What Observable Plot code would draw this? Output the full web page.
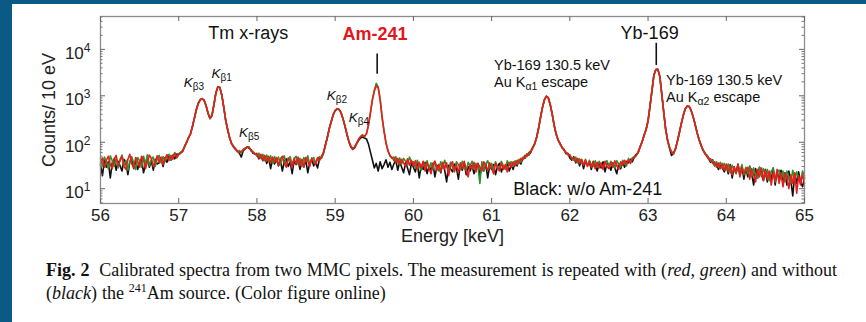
<!DOCTYPE html>
<html><head><meta charset="utf-8">
<script src="https://cdn.jsdelivr.net/npm/d3@7"></script>
<script src="https://cdn.jsdelivr.net/npm/@observablehq/plot@0.6"></script>
<style>
html,body{margin:0;padding:0;background:#fff;width:866px;height:322px;overflow:hidden;}
#wrap{position:relative;width:866px;height:322px;}
#bandTop{position:absolute;left:0;top:0;width:866px;height:4px;background:#0b5a86;}
#bandLeft{position:absolute;left:0;top:0;width:12px;height:322px;background:#0b5a86;}
#chart{position:absolute;left:0;top:0;}
#caption{position:absolute;left:46px;top:259px;font-family:"Liberation Serif",serif;font-size:18px;line-height:22.5px;color:#111;white-space:nowrap;word-spacing:0.4px;}
#caption sup{font-size:12px;vertical-align:7px;line-height:0;}
</style></head>
<body><div id="wrap"><div id="chart"></div><div id="bandTop"></div><div id="bandLeft"></div>
<div id="caption"><b>Fig. 2</b>&nbsp; Calibrated spectra from two MMC pixels. The measurement is repeated with (<i>red, green</i>) and without<br>(<i>black</i>) the <sup>241</sup>Am source. (Color figure online)</div></div>
<script>
// Energy bins (keV): first bin and bin spacing of the displayed spectra
const energyStart = 56;
const energyStep = 0.025;

// Counts / 10 eV, red run (with Am-241)
const redCounts = [
36,46,29,41,50,33,27,44,52,31,
40,49,30,26,43,55,34,28,47,39,
29,50,42,27,38,53,45,30,36,51,
37,48,33,45,54,40,52,43,58,47,
54,58,65,80,100,124,152,215,330,500,
690,820,870,800,610,420,330,380,640,1150,
1550,1520,1050,580,300,190,125,95,80,72,
64,60,63,69,73,79,76,67,61,55,
58,46,55,41,52,39,50,36,48,37,
47,32,44,50,35,29,46,40,28,45,
34,48,31,43,29,47,39,30,46,38,
33,47,40,50,59,86,128,196,280,392,
482,525,512,432,318,222,150,106,82,73,
79,96,116,134,142,134,150,232,420,800,
1250,1650,1480,820,350,170,95,64,53,45,
48,37,45,33,43,36,30,44,32,41,
31,40,26,37,29,39,24,36,28,21,
34,39,25,33,23,37,27,36,19,32,
38,24,33,22,36,27,39,25,18,33,
27,37,23,35,29,24,38,31,25,36,
28,21,35,30,24,36,26,33,23,37,
29,38,31,41,35,45,42,52,49,60,
63,76,92,126,200,340,560,820,980,900,
640,400,230,150,112,92,78,69,59,56,
52,44,47,38,45,35,43,32,41,30,
39,29,38,27,37,28,36,26,39,30,
27,37,29,40,31,26,38,32,41,34,
42,35,44,46,53,62,80,104,142,188,
290,600,1300,2800,3650,3750,2600,1100,450,190,
110,76,61,57,72,104,160,250,380,520,
600,590,490,360,250,165,118,88,70,58,
52,43,44,35,38,29,36,27,35,25,
34,23,31,20,30,22,33,18,29,21,
25,29,16,27,20,14,26,18,28,15,
25,16,24,12,23,15,26,13,22,11,
21,18,10,20,13,22,8,19,12,21,
13];

// Counts / 10 eV, green run (with Am-241)
const greenCounts = [
45,31,48,38,27,51,40,30,46,28,
43,53,32,41,25,39,49,35,26,47,
40,29,50,34,54,31,43,48,30,45,
52,36,49,38,51,55,41,50,60,46,
57,61,67,78,103,120,156,210,335,495,
700,815,860,810,600,425,320,390,630,1160,
1540,1530,1040,590,295,195,122,97,78,74,
62,66,59,71,75,77,80,64,63,57,
50,58,45,55,40,53,38,51,35,49,
38,48,33,45,51,31,42,49,33,44,
50,34,45,30,47,38,51,33,42,47,
36,44,49,45,61,83,132,192,285,386,
488,520,505,440,325,218,155,104,85,71,
81,93,119,131,145,131,155,228,430,820,
1300,1850,1550,860,340,175,98,67,50,48,
40,49,36,46,34,45,39,33,48,37,
38,28,41,31,25,38,30,40,27,36,
26,39,29,24,38,28,41,30,25,37,
29,23,38,33,26,39,28,24,37,31,
39,27,35,30,13,38,25,34,40,28,
35,26,38,29,25,39,31,26,40,32,
38,30,40,33,43,37,48,46,57,54,
66,73,95,122,205,335,570,810,990,890,
650,395,235,148,115,90,80,66,62,53,
54,45,41,48,36,44,37,34,43,31,
41,33,30,40,29,39,32,28,37,40,
31,39,32,28,40,33,29,41,35,31,
45,37,47,48,51,64,78,106,138,192,
295,590,1320,2750,3700,3700,2650,1080,460,185,
112,78,63,55,74,102,163,245,385,515,
610,580,495,355,255,160,121,86,72,56,
54,47,39,41,32,38,29,37,28,35,
26,34,22,32,25,21,31,24,33,20,
29,21,31,18,28,20,17,29,19,27,
18,26,15,24,27,14,23,25,16,24,
14,24,18,13,25,15,23,17,13,24,
19];

// Counts / 10 eV, black run (without Am-241)
const blackCounts = [
33,19,41,29,38,17,36,44,25,39,
31,24,43,35,20,38,45,27,40,26,
37,44,22,33,46,29,40,25,43,34,
36,45,30,47,37,50,41,53,44,56,
55,60,63,82,98,127,148,220,325,505,
680,830,865,795,615,415,325,372,650,1140,
1560,1510,1060,575,305,185,128,93,82,70,
65,58,48,66,72,80,74,69,58,56,
54,44,52,40,49,35,46,27,44,34,
43,31,41,24,39,44,30,38,21,40,
33,42,26,38,30,41,22,36,43,31,
38,28,44,46,57,88,125,200,275,395,
478,530,508,428,322,225,148,103,79,70,
76,92,110,124,130,124,118,92,62,42,
28,35,24,38,27,33,42,29,37,26,
34,41,25,38,29,22,37,28,20,35,
29,23,35,17,32,26,37,21,31,25,
35,18,30,33,22,36,25,14,32,27,
23,34,28,16,33,25,35,20,30,24,
32,21,29,35,19,30,24,34,17,31,
26,33,20,30,35,23,31,27,36,24,
32,26,37,31,41,34,46,45,54,53,
60,78,90,128,195,345,555,830,975,910,
630,405,225,152,110,95,76,70,57,58,
46,41,49,36,44,31,42,27,39,32,
37,26,39,31,24,36,28,38,23,35,
33,25,36,28,21,35,27,37,29,39,
36,43,38,49,55,60,82,102,145,185,
285,610,1280,2850,3680,3720,2620,1120,445,195,
108,74,52,59,70,106,158,255,375,525,
595,595,485,365,245,168,115,90,68,60,
50,44,37,42,31,36,26,34,28,23,
31,21,33,17,29,22,34,19,30,16,
28,18,30,21,12,27,17,29,20,15,
26,14,23,16,28,12,24,15,25,13,
22,12,24,15,7,21,13,23,14,11,
17];

// Axes
const xDomain = [56, 65];
const yDomain = [4.8, 51000];
const xTicks = [56, 57, 58, 59, 60, 61, 62, 63, 64, 65];
const yMajorTicks = [10, 100, 1000, 10000];
const yMinorTicks = [5,6,7,8,9,20,30,40,50,60,70,80,90,200,300,400,500,600,700,800,900,2000,3000,4000,5000,6000,7000,8000,9000,20000,30000,40000,50000];

// Annotations (anchored in data units)
const headLabels = ["Tm x-rays", "Yb-169", "Black: w/o Am-241"];
const headEnergy = [57.89, 63.02, 62.23];
const headCounts = [22000, 22000, 9.6];
const amLabel = ["Am-241"];
const amEnergy = [59.51];
const amCounts = [21000];
const markerEnergy = [59.537, 63.105];
const markerTop = [7900, 13500];
const markerBottom = [2900, 4500];
const escLabels = ["Yb-169 130.5 keV", "Au Kα1 escape", "Yb-169 130.5 keV", "Au Kα2 escape"];
const escEnergy = [61.03, 61.03, 63.23, 63.23];
const escCounts = [4460, 1920, 2150, 940];
const lineLabels = ["Kβ3", "Kβ1", "Kβ5", "Kβ2", "Kβ4"];
const lineEnergy = [57.065, 57.42, 57.77, 58.893, 59.175];
const lineCounts = [1900, 3040, 163, 986, 338];

const toRows = (arr) => arr.map((c, i) => ({energy: energyStart + i * energyStep, counts: c}));
const blackRows = toRows(blackCounts);
const greenRows = toRows(greenCounts);
const redRows = toRows(redCounts);

const W = 866, H = 250, mL = 100, mR = 62, mT = 16, mB = 47;
const innerW = W - mL - mR, innerH = H - mT - mB;
const idx = (a) => a.map((_, i) => i);

const svg = Plot.plot({
  width: W, height: H,
  marginLeft: mL, marginRight: mR, marginTop: mT, marginBottom: mB,
  style: {fontFamily: "Liberation Sans, Arial, sans-serif", background: "transparent", color: "#222", overflow: "visible"},
  x: {domain: xDomain, label: null},
  y: {type: "log", domain: yDomain, label: null},
  marks: [
    Plot.line(blackRows, {x: "energy", y: "counts", stroke: "#111", strokeWidth: 1.6}),
    Plot.line(greenRows, {x: "energy", y: "counts", stroke: "#2a962a", strokeWidth: 1.6}),
    Plot.line(redRows, {x: "energy", y: "counts", stroke: "#ec1c1c", strokeWidth: 1.6}),
    Plot.frame({stroke: "#8c8c8c", strokeWidth: 1.3}),
    Plot.ruleX(xTicks, {x: d => d, insetTop: innerH - 5, stroke: "#666"}),
    Plot.ruleX(xTicks, {x: d => d, insetBottom: innerH - 5, stroke: "#666"}),
    Plot.ruleY(yMajorTicks, {y: d => d, insetRight: innerW - 5, stroke: "#666"}),
    Plot.ruleY(yMajorTicks, {y: d => d, insetLeft: innerW - 5, stroke: "#666"}),
    Plot.ruleY(yMinorTicks, {y: d => d, insetRight: innerW - 2.5, stroke: "#777"}),
    Plot.ruleY(yMinorTicks, {y: d => d, insetLeft: innerW - 2.5, stroke: "#777"}),
    Plot.axisX({ticks: xTicks, tickSize: 0, tickPadding: 5, fontSize: 17, tickFormat: d => String(d)}),
    Plot.axisY({ticks: yMajorTicks, tickSize: 0, tickPadding: 10, fontSize: 17, dy: 4, tickFormat: d => "10^" + Math.round(Math.log10(d))}),
    Plot.text(["Energy [keV]"], {text: d => d, frameAnchor: "bottom", lineAnchor: "middle", textAnchor: "middle", dy: 33, fontSize: 18, fill: "#222"}),
    Plot.text(["Counts/ 10 eV"], {text: d => d, frameAnchor: "left", textAnchor: "middle", lineAnchor: "middle", dx: -51, rotate: -90, fontSize: 18, fill: "#222"}),
    Plot.ruleX(idx(markerEnergy), {x: i => markerEnergy[i], y1: i => markerBottom[i], y2: i => markerTop[i], stroke: "#111", strokeWidth: 1.6}),
    Plot.text(idx(headLabels), {x: i => headEnergy[i], y: i => headCounts[i], text: i => headLabels[i], fontSize: 18, fill: "#111"}),
    Plot.text(idx(amLabel), {x: i => amEnergy[i], y: i => amCounts[i], text: i => amLabel[i], fontSize: 18, fontWeight: "bold", fill: "#e3161c"}),
    Plot.text(idx(escLabels), {x: i => escEnergy[i], y: i => escCounts[i], text: i => escLabels[i], fontSize: 14.5, textAnchor: "start", fill: "#111"}),
    Plot.text(idx(lineLabels), {x: i => lineEnergy[i], y: i => lineCounts[i], text: i => lineLabels[i], fontSize: 13.5, textAnchor: "start", fill: "#111"})
  ]
});
document.getElementById("chart").append(svg);

// Rich text: subscripts, superscripts and italics
const NS = "http://www.w3.org/2000/svg";
function richify(el, parts) {
  while (el.firstChild) el.removeChild(el.firstChild);
  for (const p of parts) {
    const ts = document.createElementNS(NS, "tspan");
    ts.textContent = p.t;
    if (p.italic) ts.setAttribute("font-style", "italic");
    if (p.size) ts.setAttribute("font-size", p.size);
    if (p.dy) ts.setAttribute("dy", p.dy);
    el.appendChild(ts);
  }
}
svg.querySelectorAll("text").forEach(el => {
  const s = el.textContent;
  let m;
  if ((m = s.match(/^10\^(\d)$/))) {
    richify(el, [{t: "10"}, {t: m[1], size: 12, dy: -7}]);
  } else if ((m = s.match(/^K(β\d)$/))) {
    richify(el, [{t: "K", italic: true}, {t: m[1], size: 10, dy: 3}]);
  } else if ((m = s.match(/^Au K(α\d) escape$/))) {
    richify(el, [{t: "Au K"}, {t: m[1], size: 10.5, dy: 3}, {t: " escape", dy: -3}]);
  }
});
</script>
</body></html>
